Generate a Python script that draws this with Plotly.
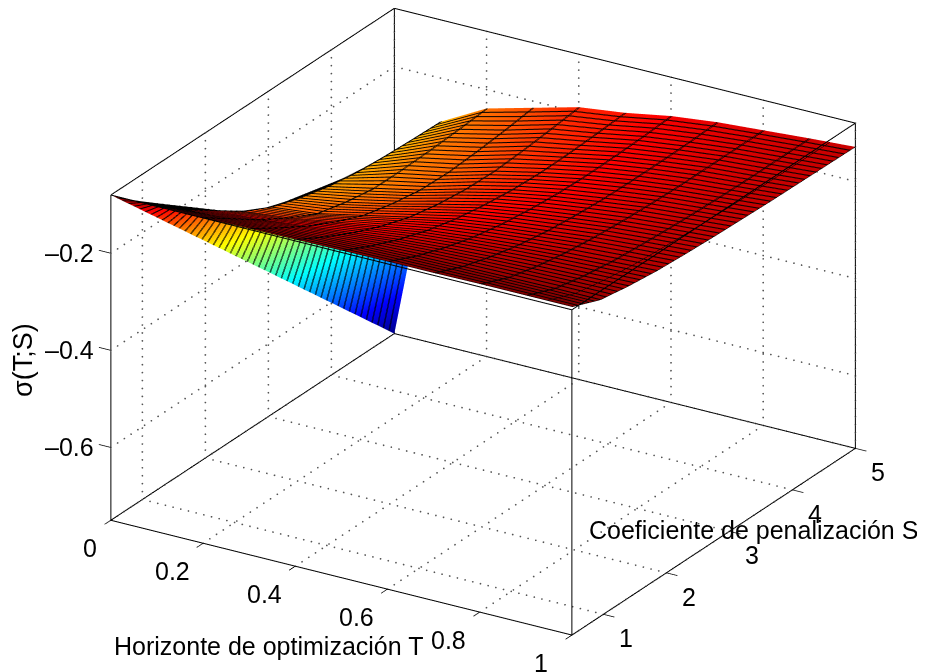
import numpy as np
import plotly.graph_objects as go

# --- data ---
T = [0, 0.03, 0.05, 0.07, 0.1, 0.2, 0.3, 0.4, 0.5, 0.6, 0.7, 0.8, 0.9, 1.0]
S = [0.5, 0.95, 1.4, 1.85, 2.3, 2.75, 3.2, 3.65, 4.1, 4.55, 5.0]
# one list per S value, along T
z_s050 = [-0.080,-0.080,-0.080,-0.080,-0.080,-0.079,-0.078,-0.077,-0.076,-0.075,-0.075,-0.074,-0.074,-0.074]
z_s095 = [-0.147,-0.132,-0.125,-0.125,-0.125,-0.120,-0.115,-0.110,-0.105,-0.102,-0.100,-0.099,-0.098,-0.098]
z_s140 = [-0.214,-0.184,-0.170,-0.170,-0.165,-0.160,-0.150,-0.140,-0.130,-0.123,-0.118,-0.114,-0.111,-0.108]
z_s185 = [-0.281,-0.236,-0.215,-0.215,-0.205,-0.195,-0.180,-0.165,-0.150,-0.140,-0.132,-0.125,-0.120,-0.115]
z_s230 = [-0.348,-0.288,-0.255,-0.250,-0.235,-0.225,-0.205,-0.185,-0.165,-0.152,-0.142,-0.132,-0.125,-0.119]
z_s275 = [-0.415,-0.340,-0.285,-0.270,-0.255,-0.240,-0.220,-0.197,-0.175,-0.160,-0.148,-0.137,-0.129,-0.122]
z_s320 = [-0.482,-0.392,-0.310,-0.285,-0.270,-0.250,-0.230,-0.204,-0.182,-0.165,-0.152,-0.140,-0.132,-0.124]
z_s365 = [-0.549,-0.444,-0.325,-0.300,-0.280,-0.250,-0.232,-0.206,-0.185,-0.167,-0.153,-0.142,-0.134,-0.126]
z_s410 = [-0.616,-0.496,-0.335,-0.310,-0.285,-0.248,-0.228,-0.202,-0.184,-0.166,-0.153,-0.142,-0.135,-0.127]
z_s455 = [-0.683,-0.548,-0.345,-0.315,-0.288,-0.244,-0.222,-0.196,-0.181,-0.164,-0.152,-0.142,-0.135,-0.128]
z_s500 = [-0.750,-0.600,-0.350,-0.320,-0.290,-0.239,-0.214,-0.189,-0.177,-0.160,-0.149,-0.142,-0.135,-0.129]
Z = [z_s050, z_s095, z_s140, z_s185, z_s230, z_s275, z_s320, z_s365, z_s410, z_s455, z_s500]

T_ticks = [0, 0.2, 0.4, 0.6, 0.8, 1]
T_labels = ["0", "0.2", "0.4", "0.6", "0.8", "1"]
S_ticks = [1, 2, 3, 4, 5]
S_labels = ["1", "2", "3", "4", "5"]
Z_ticks = [-0.6, -0.4, -0.2]
Z_labels = ["\u20130.6", "\u20130.4", "\u20130.2"]

T_lim = (0, 1)
S_lim = (0.5, 5)
Z_lim = (-0.75, -0.08)

FONT = "Liberation Sans"
JET = [[0, "#00008f"], [0.125, "#0000ff"], [0.375, "#00ffff"], [0.625, "#ffff00"],
       [0.875, "#ff0000"], [1, "#800000"]]
FLAT = dict(ambient=1, diffuse=0, specular=0, roughness=1, fresnel=0)
ZOOM = 1.652 * 1.005


def segs(pairs):
    xs, ys, zs = [], [], []
    for a, b in pairs:
        xs += [a[0], b[0], None]
        ys += [a[1], b[1], None]
        zs += [a[2], b[2], None]
    return xs, ys, zs


def dots(pairs, step_px=7.7):
    xs, ys, zs = [], [], []
    for a, b in pairs:
        a_, b_ = np.array(a, float), np.array(b, float)
        d = b_ - a_
        length = np.hypot(461 * d[0] + 62.9 * d[1], 115 * d[0] - 41.3 * d[1] - 485 * d[2])
        n = max(2, int(length / step_px))
        for f in np.linspace(0, 1, n):
            p = a_ + f * d
            xs.append(p[0]); ys.append(p[1]); zs.append(p[2])
    return xs, ys, zs


t0, t1 = T_lim
s0, s1 = S_lim
b0, b1 = Z_lim

box = [((t0, s0, b0), (t1, s0, b0)), ((t1, s0, b0), (t1, s1, b0)), ((t1, s1, b0), (t0, s1, b0)), ((t0, s1, b0), (t0, s0, b0)),
       ((t0, s0, b1), (t1, s0, b1)), ((t1, s0, b1), (t1, s1, b1)), ((t1, s1, b1), (t0, s1, b1)), ((t0, s1, b1), (t0, s0, b1)),
       ((t0, s0, b0), (t0, s0, b1)), ((t1, s0, b0), (t1, s0, b1)), ((t1, s1, b0), (t1, s1, b1)), ((t0, s1, b0), (t0, s1, b1))]

grid = []
for t in T_ticks:
    grid.append(((t, s0, b0), (t, s1, b0)))
    grid.append(((t, s1, b0), (t, s1, b1)))
for s in S_ticks:
    grid.append(((t0, s, b0), (t1, s, b0)))
    grid.append(((t0, s, b0), (t0, s, b1)))
for z in Z_ticks:
    grid.append(((t0, s0, z), (t0, s1, z)))
    grid.append(((t0, s1, z), (t1, s1, z)))

ticks = []
for t in T_ticks:
    ticks.append(((t, s0, b0), (t, s0 - 0.17, b0)))
for s in S_ticks:
    ticks.append(((t1, s, b0), (t1 + 0.024, s, b0)))
for z in Z_ticks:
    ticks.append(((t0, s0, z), (t0 - 0.026, s0, z)))

fig = go.Figure()


def add_surface(xc, yc):
    fig.add_trace(go.Surface(
        x=T, y=S, z=Z, cmin=b0, cmax=b1, colorscale=JET, showscale=False,
        lighting=FLAT, hoverinfo="skip",
        contours=dict(x=xc, y=yc, z=dict(show=False, highlight=False)),
    ))


def level(start, end, size):
    return dict(show=True, start=start, end=end, size=size, color="black", width=2, highlight=False)


off = dict(show=False, highlight=False)
# mesh lines: the doubled levels give them the heavier weight of the original mesh
add_surface(level(0.1, 1.01, 0.1), level(0.5, 5.01, 0.09))
add_surface(level(0.03, 0.1, 0.006), level(0.512, 5.0, 0.09))
add_surface(level(0.945, 0.95, 0.01), off)
add_surface(level(0.103, 1.0, 0.1), off)

xs, ys, zs = segs(box)
fig.add_trace(go.Scatter3d(x=xs, y=ys, z=zs, mode="lines", line=dict(color="black", width=2), hoverinfo="skip", showlegend=False))
xs, ys, zs = segs(ticks)
fig.add_trace(go.Scatter3d(x=xs, y=ys, z=zs, mode="lines", line=dict(color="black", width=1.5), hoverinfo="skip", showlegend=False))
xs, ys, zs = dots(grid)
fig.add_trace(go.Scatter3d(x=xs, y=ys, z=zs, mode="markers", marker=dict(color="#555555", size=1, line=dict(width=0)), hoverinfo="skip", showlegend=False))

tick_font = dict(family=FONT, size=25, color="black")
ann3d = []
for t, lab in zip(T_ticks, T_labels):
    ann3d.append(dict(x=t, y=s0, z=b0, text=lab, showarrow=False, font=tick_font,
                      xshift=-21 if t == 0 else -31, yshift=-28))
for s, lab in zip(S_ticks, S_labels):
    ann3d.append(dict(x=t1, y=s, z=b0, text=lab, showarrow=False, font=tick_font, xshift=23, yshift=-24))
for z, lab in zip(Z_ticks, Z_labels):
    ann3d.append(dict(x=t0, y=s0, z=z, text=lab, showarrow=False, font=tick_font, xshift=-41, yshift=0))

hidden = dict(visible=False, showgrid=False, zeroline=False, showspikes=False, showbackground=False)
fig.update_layout(
    width=925, height=672, margin=dict(l=0, r=0, t=0, b=0),
    paper_bgcolor="white", showlegend=False,
    scene=dict(
        domain=dict(x=[39 / 925, 1], y=[20 / 672, 1]),
        xaxis=dict(range=[-0.05, 1.05], **hidden),
        yaxis=dict(range=[0.4, 5.1], **hidden),
        zaxis=dict(range=[-0.8, -0.05], **hidden),
        aspectmode="manual",
        aspectratio=dict(x=1.1 * ZOOM, y=1.0444 * ZOOM, z=0.7357 * ZOOM),
        camera=dict(projection=dict(type="orthographic"),
                    eye=dict(x=0.479 * 1.5 + 0.018, y=-0.779 * 1.5 + 0.011, z=0.405 * 1.5 - 0.025),
                    up=dict(x=0, y=0, z=1), center=dict(x=0.018, y=0.011, z=-0.025)),
        annotations=ann3d,
    ),
    annotations=[
        dict(xref="paper", yref="paper", x=260 / 925, y=1 - 638 / 672, text="Horizonte de optimización T",
             showarrow=False, font=tick_font, xanchor="center", yanchor="middle"),
        dict(xref="paper", yref="paper", x=745 / 925, y=1 - 522 / 672, text="Coeficiente de penalización S",
             showarrow=False, font=tick_font, xanchor="center", yanchor="middle"),
        dict(xref="paper", yref="paper", x=15 / 925, y=1 - 352 / 672, text="σ(T;S)", textangle=-90,
             showarrow=False, font=dict(family=FONT, size=27, color="black"), xanchor="center", yanchor="middle"),
    ],
)

fig.write_html("out.html", default_width="925px")
